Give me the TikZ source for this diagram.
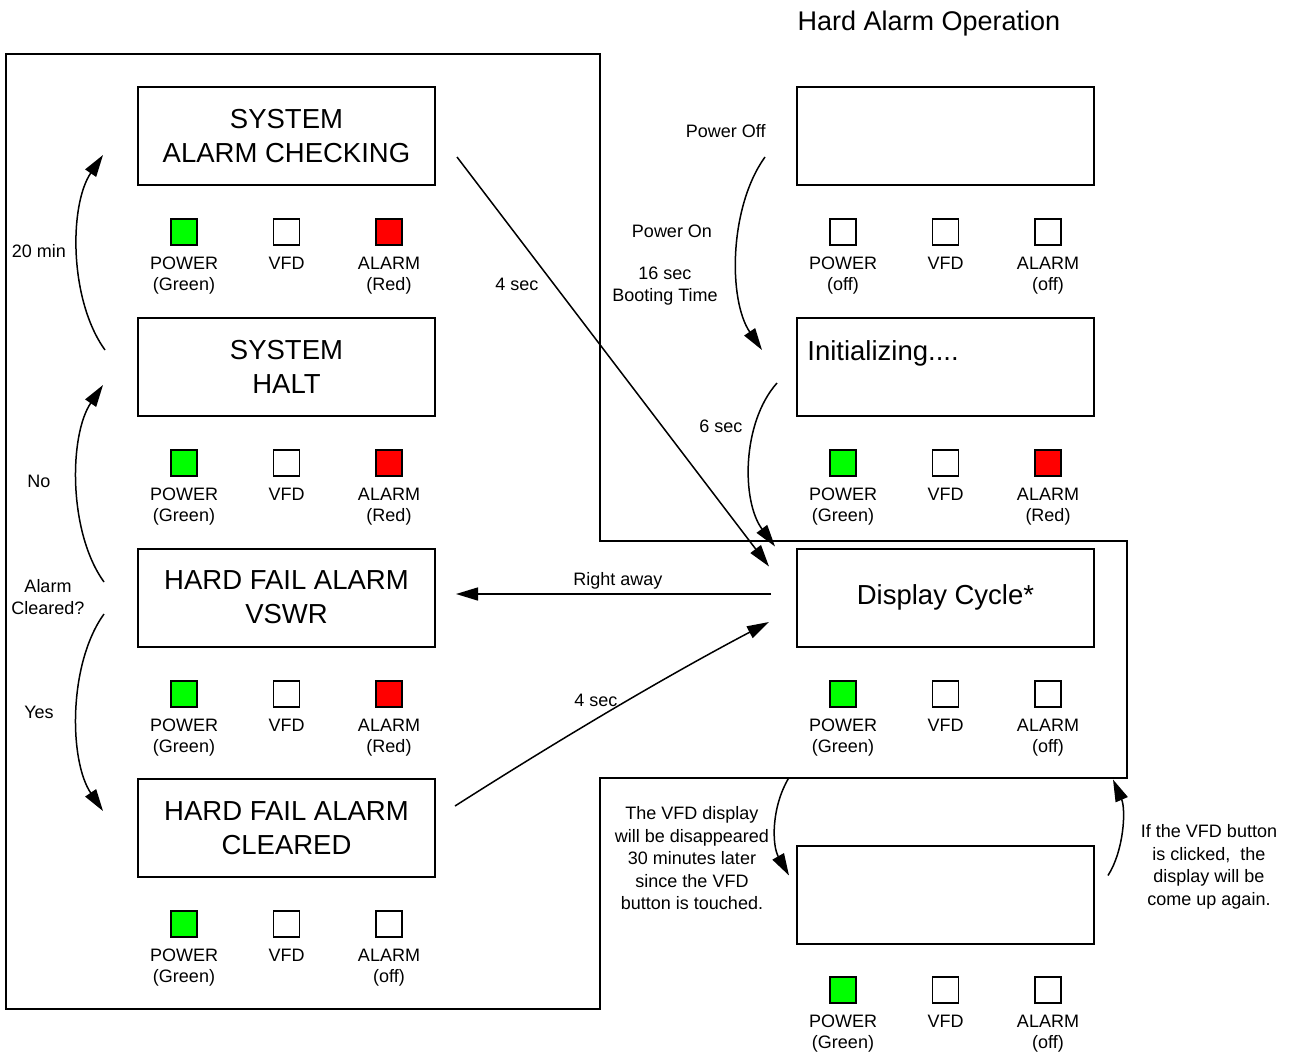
\documentclass[tikz,border=0pt]{standalone}
\usepackage{fontspec}
\setmainfont{Liberation Sans}
\usetikzlibrary{arrows.meta}

\definecolor{lampgreen}{HTML}{00FF00}
\definecolor{lampred}{HTML}{FF0000}

\newcommand\scrfont{\fontsize{13.75}{17}\selectfont}
\newcommand\lmpfont{\fontsize{9}{10.5}\selectfont}
\newcommand\ntfont{\fontsize{9}{11.25}\selectfont}
\newcommand\ttlfont{\fontsize{13.5}{16}\selectfont}

% one row of status lamps (POWER, VFD, ALARM) under a screen
% #1 name prefix, #2 screen centre x, #3 lamp centre y,
% #4 power fill, #5 power state, #6 alarm fill, #7 alarm state
\newcommand\lamprow[7]{%
  \node[lamp,fill=#4] (#1p) at (#2-102.5,#3) {};
  \node[lamp,fill=white] (#1v) at (#2,#3) {};
  \node[lamp,fill=#6] (#1a) at (#2+102.5,#3) {};
  \node[lamptext] (#1pl) at (#2-102.5,#3+25) {POWER\\#5};
  \node[lamptext] (#1vl) at (#2,#3+25) {VFD};
  \node[lamptext] (#1al) at (#2+102.5,#3+25) {ALARM\\#7};
}

\begin{document}
\begin{tikzpicture}[x=0.5pt,y=-0.5pt,
  screen/.style={draw, line width=1pt, minimum width=148.5pt, minimum height=49pt,
                 inner sep=0pt, font=\scrfont, align=center},
  lamp/.style={draw, line width=0.75pt, minimum size=13pt, inner sep=0pt},
  lamptext/.style={font=\lmpfont, align=center, inner sep=0pt, anchor=north},
  note/.style={font=\ntfont, align=center, inner sep=0pt},
  arr/.style={line width=0.75pt, -{Triangle[length=11pt,width=6.5pt]}}]

\useasboundingbox (0,0) rectangle (1298,1055);

% outline of the alarm-handling panel
\draw[line width=1pt] (6,54) -- (600,54) -- (600,541) -- (1127,541) -- (1127,778)
  -- (600,778) -- (600,1009) -- (6,1009) -- cycle;

\node[font=\ttlfont, anchor=base, inner sep=0pt] (title) at (929,30) {Hard Alarm Operation};

% left column of screens
\node[screen] (b1) at (286.5,136) {SYSTEM\\ALARM CHECKING};
\node[screen] (b2) at (286.5,367) {SYSTEM\\HALT};
\node[screen] (b3) at (286.5,597.5) {HARD FAIL ALARM\\VSWR};
\node[screen] (b4) at (286.5,828) {HARD FAIL ALARM\\CLEARED};

\lamprow{l1}{286.5}{232}{lampgreen}{(Green)}{lampred}{(Red)}
\lamprow{l2}{286.5}{463}{lampgreen}{(Green)}{lampred}{(Red)}
\lamprow{l3}{286.5}{694}{lampgreen}{(Green)}{lampred}{(Red)}
\lamprow{l4}{286.5}{924}{lampgreen}{(Green)}{white}{(off)}

% right column of screens
\node[screen] (r1) at (945.5,136) {};
\node[screen] (r2) at (945.5,367) {};
\node[font=\scrfont, anchor=base west, inner sep=0pt] (init) at (807,360) {Initializing....};
\node[screen] (dc) at (945.5,597.5) {Display Cycle*};
\node[screen] (r4) at (945.5,894.5) {};

\lamprow{q1}{945.5}{232}{white}{(off)}{white}{(off)}
\lamprow{q2}{945.5}{463}{lampgreen}{(Green)}{lampred}{(Red)}
\lamprow{q3}{945.5}{694}{lampgreen}{(Green)}{white}{(off)}
\lamprow{q4}{945.5}{990}{lampgreen}{(Green)}{white}{(off)}

% transitions on the left
\draw[arr] ([shift={(-32,-17)}]b2.west) .. controls +(-36,-50) and +(-34,50) .. ([shift={(-34,19)}]b1.west);
\draw[arr] ([shift={(-33,-15.5)}]b3.west) .. controls +(-36,-50) and +(-34,50) .. ([shift={(-34,18)}]b2.west);
\draw[arr] ([shift={(-33,16.5)}]b3.west) .. controls +(-36,50) and +(-34,-50) .. ([shift={(-34,-17)}]b4.west);

\node[note, anchor=base] (t20) at (39,257.5) {20 min};
\node[note, anchor=base] (tno) at (39,487.5) {No};
\node[note, anchor=north] (tcl) at (48,579) {Alarm\\Cleared?};
\node[note, anchor=base] (tyes) at (39,718.5) {Yes};

% transitions between the columns
\draw[arr] ([shift={(21,21)}]b1.east) -- ([shift={(-27,19)}]dc.north west);
\draw[arr] ([shift={(-25,-3.5)}]dc.west) -- ([shift={(20,-3.5)}]b3.east);
\draw[arr] ([shift={(19,-22)}]b4.east) .. controls +(102.5,-65.3) and +(-107.5,56.7) .. ([shift={(-27,24.5)}]dc.west);

\node[note, anchor=base] (t4a) at (517,290.5) {4 sec};
\node[note, anchor=base] (tra) at (618,585) {Right away};
\node[note, anchor=base] (t4b) at (596,706) {4 sec};

% start-up sequence on the right
\draw[arr] ([shift={(-31,21)}]r1.west) .. controls +(-36,50) and +(-34,-50) .. ([shift={(-34,-17)}]r2.west);
\draw[arr] ([shift={(-19,16)}]r2.west) .. controls +(-35.5,40) and +(-33.5,-45) .. ([shift={(-21,-1)}]dc.north west);

\node[note, anchor=base east] (toff) at (766,137.5) {Power Off};
\node[note, anchor=base] (ton) at (672,237) {Power On};
\node[note, anchor=north] (tboot) at (665,266.5) {16 sec\\Booting Time};
\node[note, anchor=base] (t6) at (721,432.5) {6 sec};

% display blanking and wake-up
\draw[arr] ([shift={(-7,-67)}]r4.north west) .. controls +(-18,30) and +(-17,-30) .. ([shift={(-7,31)}]r4.north west);
\draw[arr] ([shift={(13,31)}]r4.north east) .. controls +(16,-25) and +(13,30) .. ([shift={(18,-65)}]r4.north east);

\node[note, anchor=north] (tvfd) at (692,806.5) {The VFD display\\will be disappeared\\30 minutes later\\since the VFD\\button is touched.};
\node[note, anchor=north] (tbtn) at (1209,824.5) {If the VFD button\\is clicked,\ \ the\\display will be\\come up again.};

\end{tikzpicture}
\end{document}
